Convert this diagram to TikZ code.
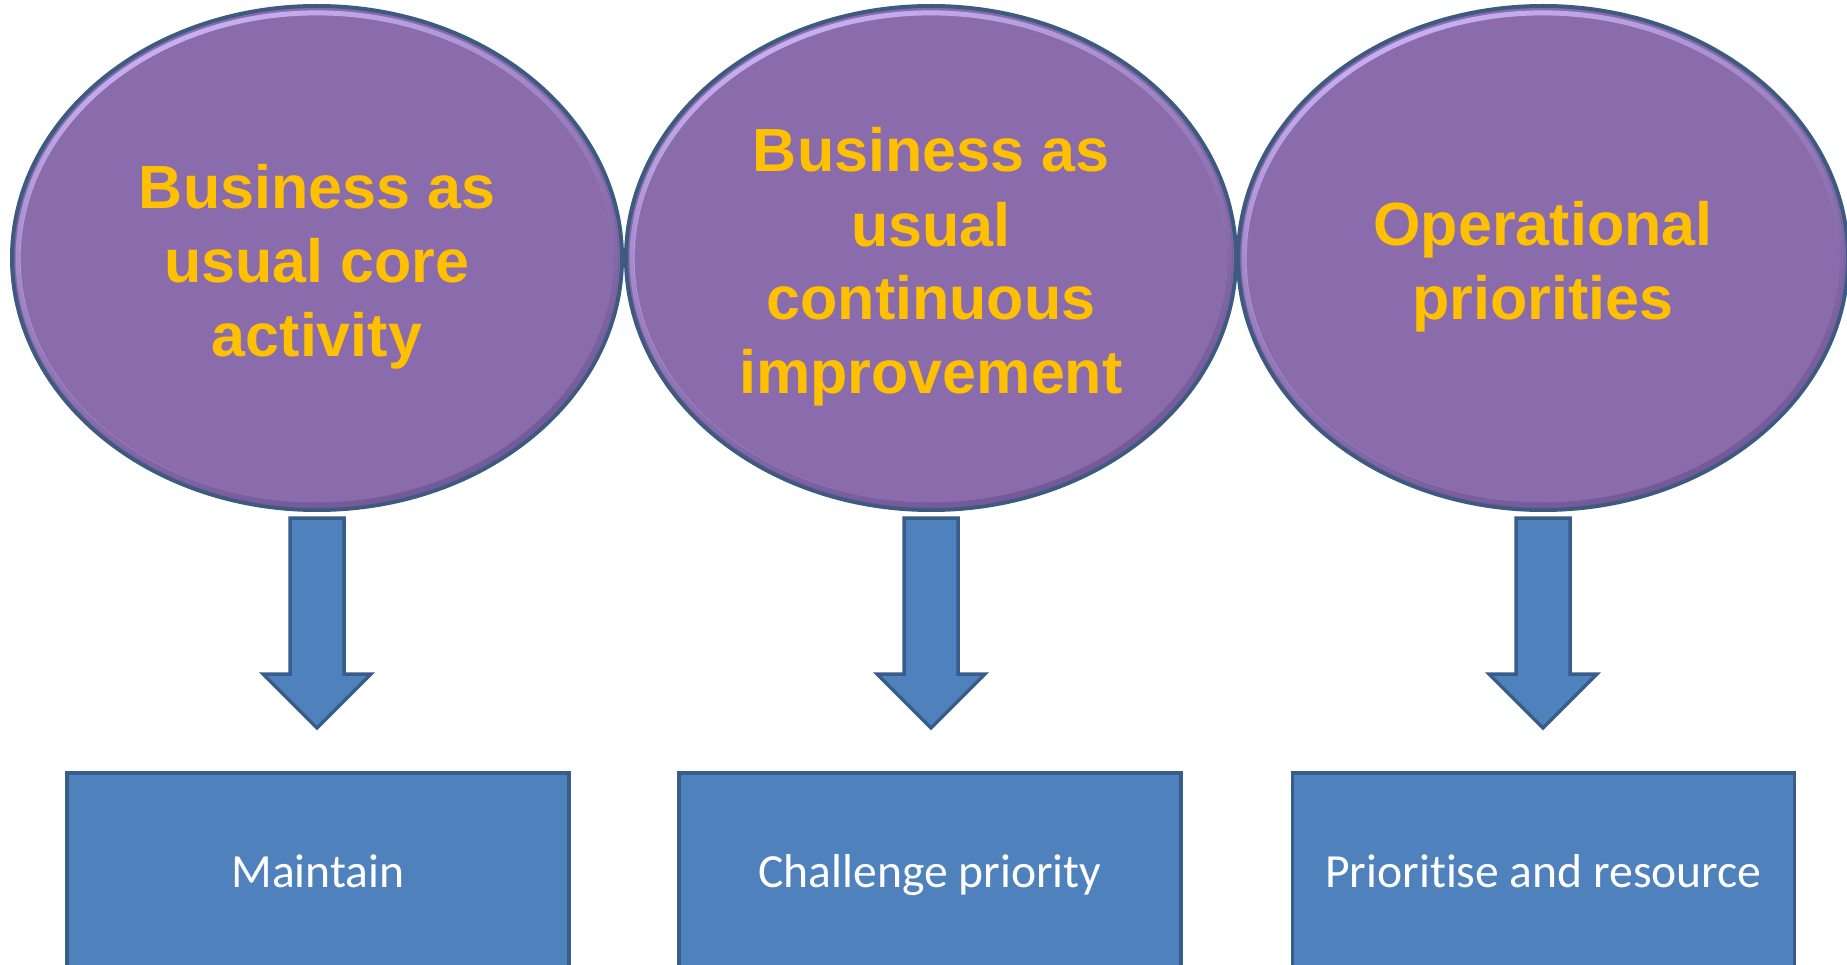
\documentclass[tikz,border=0pt]{standalone}
\usepackage{fontspec}
\setmainfont{Carlito}[RawFeature={-liga;-clig;-calt;-dlig}]
\newfontfamily\headfont{Liberation Sans}
\usetikzlibrary{shapes.geometric,fadings}
\definecolor{purp}{HTML}{8A6CAD}
\definecolor{rim}{HTML}{3D5A80}
\definecolor{lav}{HTML}{C8B0F2}
\definecolor{purpdark}{HTML}{6A5290}
\definecolor{gold}{HTML}{FFC000}
\definecolor{bfill}{HTML}{4F81BD}
\definecolor{bline}{HTML}{385D8A}
\tikzfading[name=fadetop, top color=transparent!0, middle color=transparent!100, bottom color=transparent!100]
\tikzfading[name=fadebot, top color=transparent!100, middle color=transparent!100, bottom color=transparent!30]
\tikzset{
  bubble/.style={ellipse, fill=purp, draw=rim, line width=4pt,
    minimum width=610pt, minimum height=504pt, inner sep=0pt,
    text=gold, font=\headfont\bfseries\fontsize{61}{74}\selectfont, align=center},
  outbox/.style={rectangle, fill=bfill, draw=bline, line width=3.5pt,
    minimum width=502pt, minimum height=204pt, inner sep=0pt,
    text=white, font=\fontsize{47.6}{57}\selectfont,
    text height=34pt, text depth=10pt},
  blockarrow/.style={fill=bfill, draw=bline, line width=3.5pt, line join=miter},
  hilite/.style={lav, line width=5pt, path fading=fadetop, fading angle=30},
  lowlite/.style={purpdark, line width=6pt, path fading=fadebot, fading angle=20}
}
\newcommand{\firstl}{\rule{0pt}{65pt}}
\newcommand{\lastl}{\rule[-15pt]{0pt}{15pt}}
\begin{document}
\begin{tikzpicture}[x=1pt,y=-1pt]
\fill[white] (0,0) rectangle (1847,965);
\useasboundingbox (0,0) rectangle (1847,965);

\node[bubble] (e1) at (317,258) {\firstl Business as\\usual core\\activity\lastl};
\node[bubble] (e2) at (931,258) {\firstl Business as\\usual\\continuous\\improvement\lastl};
\node[bubble] (e3) at (1543,258) {\firstl Operational\\priorities\lastl};

\foreach \n in {e1,e2,e3}{
  \draw[hilite] (\n.center) ellipse [x radius=299pt, y radius=246pt];
  \draw[lowlite] (\n.center) ellipse [x radius=300pt, y radius=247pt];
}

\node[outbox] (r1) at (318,875) {Maintain};
\node[outbox] (r2) at (930,875) {Challenge priority};
\node[outbox] (r3) at (1543.5,875) {Priorit\kern0pt ise and resource};

\foreach \cx/\n in {317/a1,931/a2,1543/a3}{
  \coordinate (\n) at (\cx,728);
  \draw[blockarrow] (\cx-27,518) -- (\cx+27,518) -- (\cx+27,674)
     -- (\cx+54,674) -- (\n) -- (\cx-54,674) -- (\cx-27,674) -- cycle;
}
\end{tikzpicture}
\end{document}
